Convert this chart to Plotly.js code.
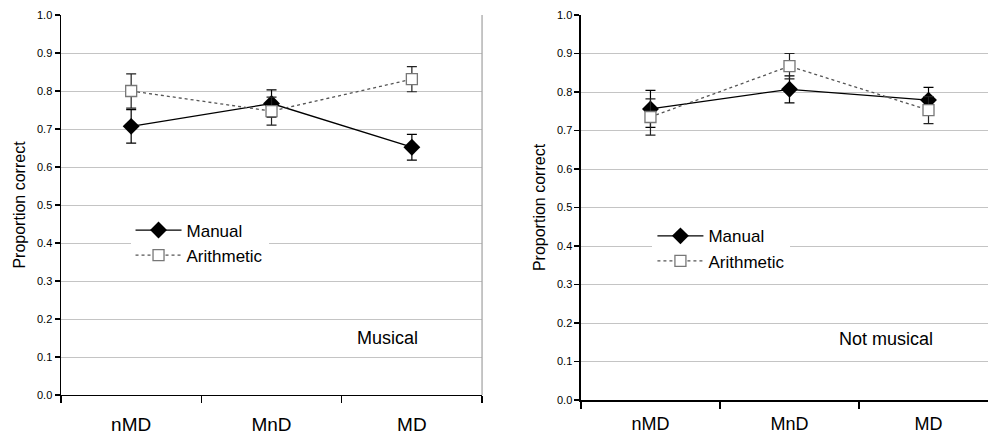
<!DOCTYPE html>
<html>
<head>
<meta charset="utf-8">
<script src="https://cdn.plot.ly/plotly-3.0.1.min.js"></script>
<style>html,body{margin:0;padding:0;background:#fff;}#chart{width:988px;height:438px;}</style>
</head>
<body>
<div id="chart"></div>
<script>
const categories = ["nMD", "MnD", "MD"];
const yTicks = [0, 0.1, 0.2, 0.3, 0.4, 0.5, 0.6, 0.7, 0.8, 0.9, 1.0];

// Musical panel
const musicalManual = [0.707, 0.767, 0.652];
const musicalManualErr = [0.044, 0.036, 0.034];
const musicalArith = [0.800, 0.747, 0.831];
const musicalArithErr = [0.045, 0.037, 0.033];

// Not musical panel
const notMusicalManual = [0.756, 0.807, 0.779];
const notMusicalManualErr = [0.048, 0.035, 0.033];
const notMusicalArith = [0.735, 0.867, 0.753];
const notMusicalArithErr = [0.047, 0.033, 0.035];

const FONT = "Liberation Sans, Arial, sans-serif";

function manualTrace(y, err, xa, ya, lg) {
  return {
    type: "scatter", mode: "lines+markers", name: "Manual",
    x: categories, y: y, xaxis: xa, yaxis: ya, legend: lg,
    line: {color: "#000", width: 1.3},
    marker: {symbol: "diamond", size: 13, color: "#000", line: {color: "#000", width: 0}},
    error_y: {type: "data", array: err, visible: true, color: "#000", thickness: 1.2, width: 5}
  };
}
function arithTrace(y, err, xa, ya, lg) {
  return {
    type: "scatter", mode: "lines+markers", name: "Arithmetic",
    x: categories, y: y, xaxis: xa, yaxis: ya, legend: lg,
    line: {color: "#555", width: 1.3, dash: "3px,3px"},
    marker: {symbol: "square", size: 11, color: "#fff", line: {color: "#777", width: 1.3}},
    error_y: {type: "data", array: err, visible: true, color: "#222", thickness: 1.2, width: 5}
  };
}

const data = [
  manualTrace(musicalManual, musicalManualErr, "x", "y", "legend"),
  arithTrace(musicalArith, musicalArithErr, "x", "y", "legend"),
  manualTrace(notMusicalManual, notMusicalManualErr, "x2", "y2", "legend2"),
  arithTrace(notMusicalArith, notMusicalArithErr, "x2", "y2", "legend2")
];

function xAxis(domain, range, anchor, fsize, standoff) {
  return {
    domain: domain, anchor: anchor, type: "category", range: range,
    tickson: "boundaries", ticks: "outside", ticklen: 7, tickwidth: 1.2, tickcolor: "#000",
    showline: true, linecolor: "#000", linewidth: 1.5, showgrid: false, zeroline: false,
    tickfont: {family: FONT, size: fsize, color: "#000"}, ticklabelstandoff: standoff
  };
}
function yAxis(domain, anchor) {
  return {
    domain: domain, anchor: anchor, range: [0, 1], tickvals: yTicks, tickformat: ".1f",
    ticks: "outside", ticklen: 5, tickwidth: 1.2, tickcolor: "#000",
    showline: true, linecolor: "#000", linewidth: 1.5,
    showgrid: true, gridcolor: "#c4c4c4", gridwidth: 1, zeroline: false,
    tickfont: {family: FONT, size: 11, color: "#000"},
    title: {text: "Proportion correct", font: {family: FONT, size: 16, color: "#000"}, standoff: 7}
  };
}

const legendCommon = {xanchor: "left", yanchor: "top", bgcolor: "#fff", itemwidth: 46,
                      font: {family: FONT, size: 17, color: "#000"}, tracegroupgap: 0};

const layout = {
  width: 988, height: 438,
  margin: {l: 61, r: 0, t: 15, b: 38},
  paper_bgcolor: "#fff", plot_bgcolor: "#fff",
  showlegend: true,
  xaxis: xAxis([0, 0.4542], [-0.5, 2.5], "y", 19, 12),
  yaxis: yAxis([0.013, 1], "x"),
  xaxis2: xAxis([0.5609, 1], [-0.5, 2.428], "y2", 18, 7),
  yaxis2: yAxis([0, 1], "x2"),
  legend: Object.assign({x: 0.075, y: 0.487}, legendCommon),
  legend2: Object.assign({x: 0.638, y: 0.472}, legendCommon),
  shapes: [
    {type: "line", xref: "x domain", yref: "y domain", x0: 1, x1: 1, y0: 0, y1: 1,
     line: {color: "#a0a0a0", width: 1.2}}
  ],
  annotations: [
    {text: "Musical", xref: "paper", yref: "paper", x: 0.3517, y: 0.161, showarrow: false,
     xanchor: "center", yanchor: "middle", font: {family: FONT, size: 18, color: "#000"}},
    {text: "Not musical", xref: "paper", yref: "paper", x: 0.890, y: 0.158, showarrow: false,
     xanchor: "center", yanchor: "middle", font: {family: FONT, size: 18, color: "#000"}}
  ]
};

Plotly.newPlot("chart", data, layout, {staticPlot: true});
</script>
</body>
</html>
